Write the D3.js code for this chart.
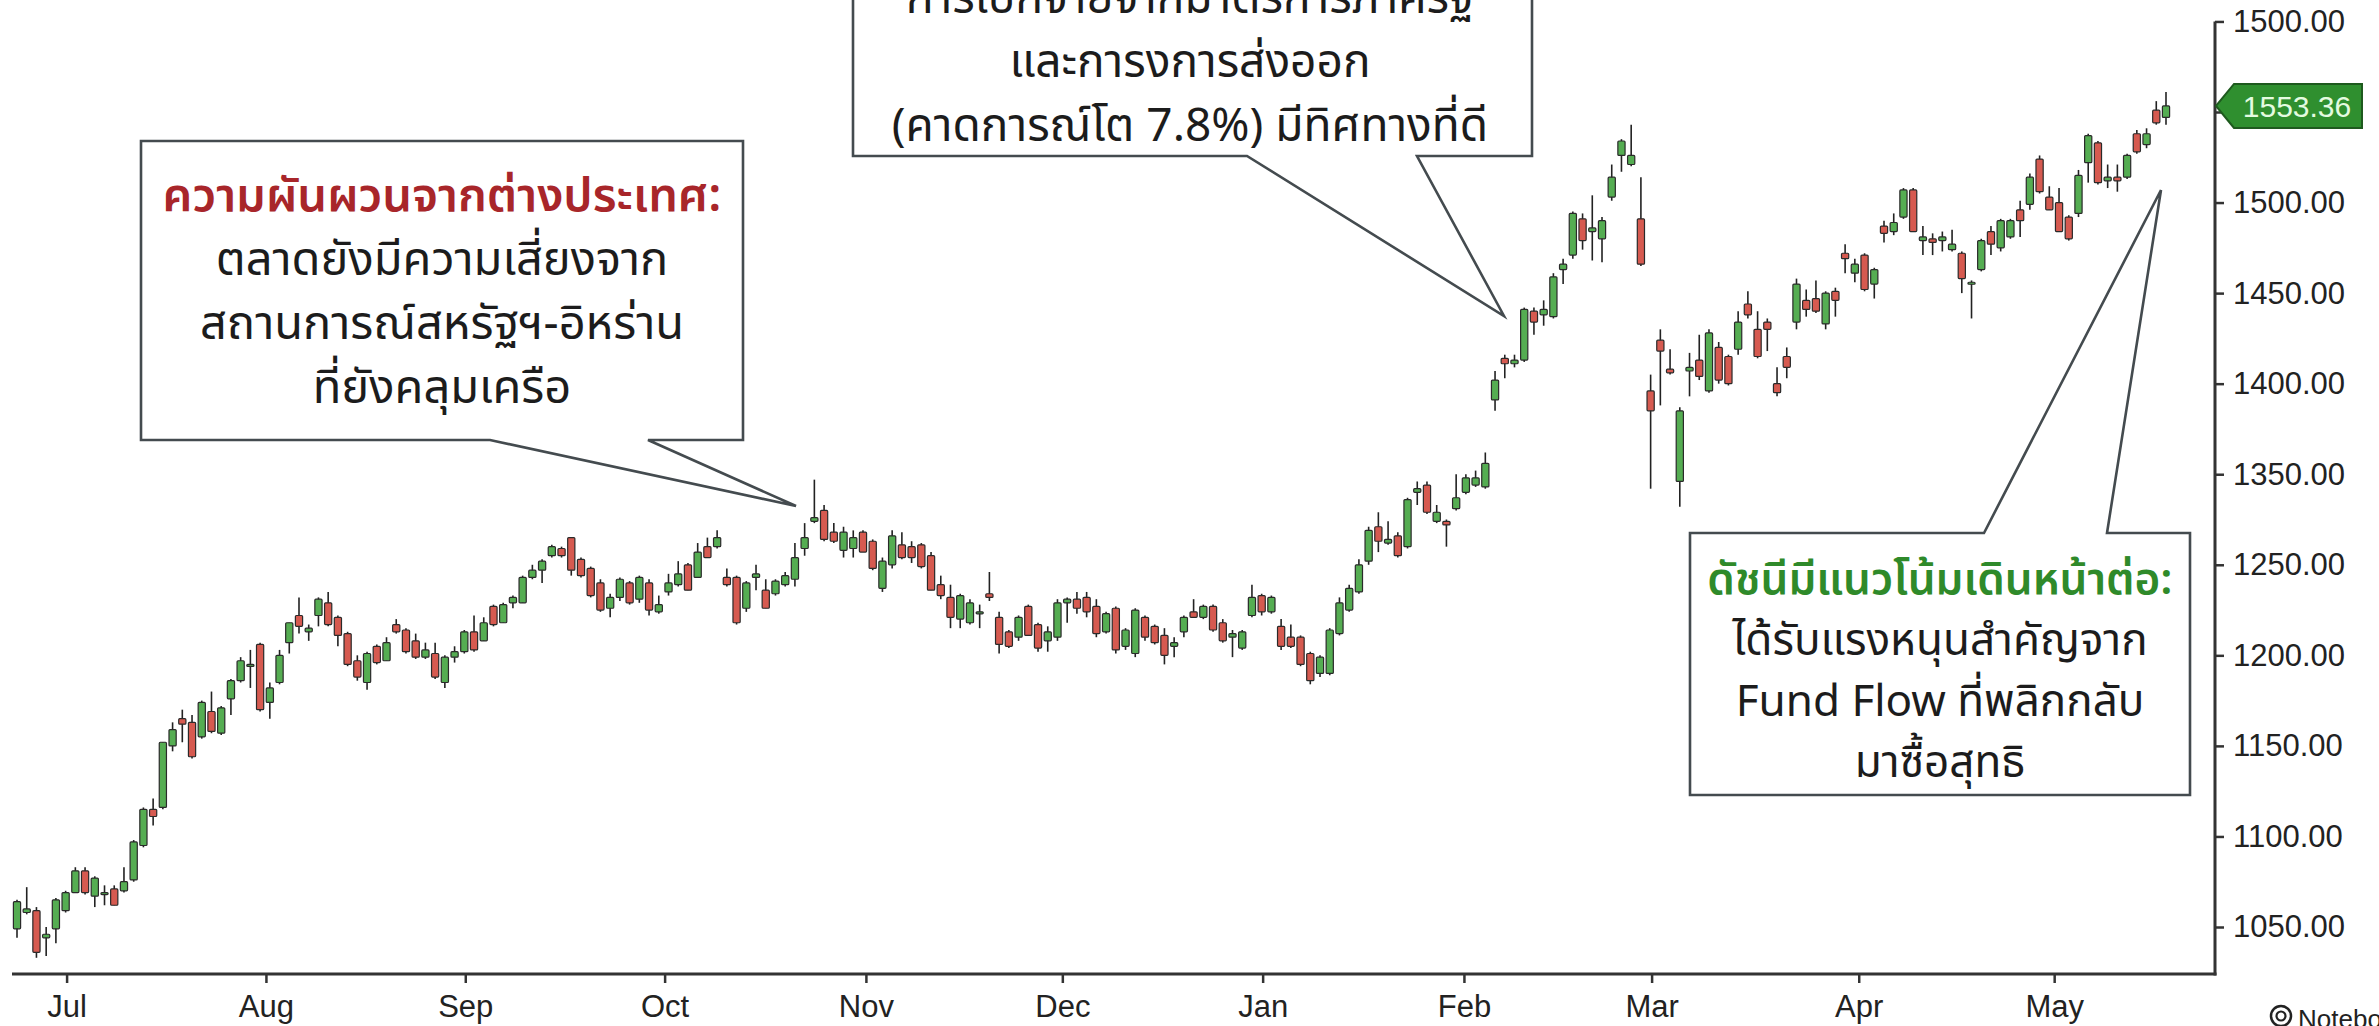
<!DOCTYPE html>
<html><head><meta charset="utf-8">
<script src="https://cdn.jsdelivr.net/npm/d3@7"></script>
<style>
html,body{margin:0;padding:0;background:#fff;overflow:hidden}
svg{display:block}
</style></head><body>
<svg id="chart" width="2379" height="1026"></svg>
<script>
// ---- DATA: daily candles [open, high, low, close] ----
const ohlc = [
[1099,1115,1094,1114],[1108,1122,1107,1110],[1109,1111,1083,1086],[1094,1100,1084,1096],[1099,1116,1091,1115],
[1109,1120,1108,1119],[1119,1133,1119,1131],[1131,1133,1118,1119],[1117,1128,1111,1127],[1118,1123,1112,1119],
[1121,1123,1112,1112],[1120,1133,1119,1125],[1126,1148,1125,1147],[1145,1166,1144,1165],[1165,1171,1156,1161],
[1166,1202,1165,1202],[1200,1213,1197,1209],[1215,1220,1202,1212],[1213,1217,1193,1194],[1205,1225,1204,1224],
[1219,1230,1207,1208],[1207,1222,1206,1221],[1226,1237,1217,1236],[1236,1249,1235,1247],[1244,1253,1232,1245],
[1256,1257,1219,1220],[1224,1235,1215,1232],[1235,1253,1234,1250],[1257,1268,1251,1268],[1272,1282,1262,1266],
[1263,1267,1258,1265],[1272,1282,1266,1281],[1279,1285,1266,1267],[1271,1272,1255,1261],[1262,1263,1244,1245],
[1247,1250,1236,1238],[1235,1252,1231,1251],[1255,1256,1245,1246],[1247,1260,1247,1257],[1267,1270,1262,1263],
[1264,1265,1251,1252],[1258,1262,1248,1249],[1249,1257,1248,1253],[1251,1257,1237,1238],[1235,1250,1232,1249],
[1249,1255,1246,1252],[1252,1264,1251,1263],[1263,1272,1252,1253],[1258,1271,1258,1268],[1277,1278,1266,1267],
[1268,1279,1268,1278],[1279,1283,1276,1282],[1279,1294,1279,1293],[1293,1300,1292,1297],[1297,1303,1290,1302],
[1305,1311,1304,1310],[1309,1310,1304,1305],[1315,1315,1294,1297],[1303,1304,1293,1294],[1298,1299,1282,1283],
[1290,1292,1274,1275],[1276,1284,1271,1282],[1282,1293,1280,1292],[1290,1291,1278,1279],[1281,1294,1279,1293],
[1290,1292,1272,1275],[1274,1283,1273,1278],[1285,1295,1283,1290],[1289,1302,1288,1295],[1300,1301,1286,1286],
[1293,1312,1293,1307],[1310,1315,1304,1304],[1310,1319,1309,1315],[1293,1298,1288,1289],[1293,1294,1267,1268],
[1276,1291,1274,1290],[1293,1300,1286,1295],[1286,1292,1276,1276],[1284,1292,1283,1291],[1289,1296,1288,1294],
[1292,1312,1288,1304],[1309,1323,1305,1315],[1324,1347,1323,1326],[1330,1333,1313,1314],[1318,1323,1312,1313],
[1308,1321,1304,1318],[1309,1319,1304,1315],[1318,1319,1307,1307],[1313,1314,1297,1298],[1287,1304,1285,1302],
[1300,1319,1298,1316],[1311,1318,1303,1304],[1310,1313,1301,1304],[1311,1312,1298,1299],[1305,1307,1286,1286],
[1289,1294,1281,1283],[1282,1289,1265,1271],[1270,1284,1265,1283],[1268,1281,1267,1279],[1273,1278,1265,1274],
[1284,1296,1280,1282],[1271,1274,1251,1256],[1263,1264,1254,1255],[1260,1272,1258,1271],[1277,1278,1261,1261],
[1267,1268,1252,1254],[1258,1266,1252,1263],[1260,1281,1258,1279],[1279,1282,1268,1281],[1281,1285,1273,1276],
[1282,1285,1271,1274],[1277,1281,1260,1262],[1263,1274,1262,1273],[1276,1277,1251,1253],[1255,1265,1253,1264],
[1251,1276,1249,1275],[1271,1272,1258,1260],[1266,1267,1256,1257],[1261,1265,1245,1250],[1255,1260,1249,1257],
[1263,1272,1260,1271],[1274,1281,1271,1271],[1271,1278,1270,1277],[1277,1278,1263,1264],[1268,1270,1257,1258],
[1260,1264,1249,1262],[1254,1264,1253,1263],[1272,1289,1271,1282],[1283,1284,1272,1274],[1274,1283,1273,1282],
[1266,1270,1253,1255],[1260,1267,1254,1255],[1260,1261,1244,1245],[1251,1252,1234,1236],[1240,1250,1238,1249],
[1240,1265,1239,1264],[1262,1282,1261,1279],[1275,1289,1274,1287],[1285,1303,1284,1300],[1302,1321,1300,1319],
[1321,1329,1307,1313],[1312,1324,1311,1314],[1316,1318,1304,1305],[1310,1337,1309,1336],[1340,1346,1333,1342],
[1344,1346,1328,1329],[1324,1333,1323,1329],[1324,1325,1310,1322],[1331,1350,1330,1337],[1340,1350,1339,1348],
[1344,1352,1343,1348],[1343,1362,1342,1356],[1391,1407,1385,1402],[1414,1416,1403,1411],[1411,1416,1409,1413],
[1413,1442,1412,1441],[1440,1442,1427,1434],[1438,1446,1432,1441],[1437,1461,1436,1459],[1463,1469,1455,1466],
[1471,1495,1469,1494],[1491,1494,1474,1479],[1484,1504,1468,1486],[1480,1492,1467,1490],[1503,1521,1501,1514],
[1526,1535,1517,1534],[1521,1543,1520,1526],[1491,1514,1465,1466],[1396,1405,1342,1385],[1424,1430,1388,1418],
[1408,1419,1405,1406],[1346,1387,1332,1385],[1407,1417,1393,1409],[1413,1427,1402,1404],[1396,1430,1395,1428],
[1420,1423,1400,1402],[1415,1416,1399,1400],[1419,1440,1416,1434],[1444,1451,1436,1438],[1430,1440,1414,1415],
[1434,1436,1418,1430],[1400,1409,1393,1395],[1415,1420,1403,1409],[1434,1458,1430,1455],[1446,1452,1437,1441],
[1447,1457,1439,1440],[1433,1451,1430,1450],[1451,1453,1437,1446],[1472,1477,1461,1469],[1461,1469,1456,1466],
[1471,1472,1451,1452],[1455,1464,1447,1463],[1487,1490,1478,1483],[1484,1494,1482,1489],[1492,1508,1491,1507],
[1507,1508,1484,1484],[1479,1487,1471,1481],[1480,1483,1471,1478],[1479,1484,1473,1481],[1474,1485,1473,1477],
[1472,1473,1450,1458],[1455,1457,1436,1456],[1463,1480,1462,1479],[1484,1487,1471,1477],[1475,1491,1473,1490],
[1481,1491,1480,1490],[1496,1501,1481,1490],[1499,1516,1496,1514],[1524,1526,1505,1506],[1503,1509,1496,1496],
[1500,1508,1484,1484],[1492,1493,1479,1480],[1494,1518,1492,1515],[1522,1538,1511,1537],[1533,1534,1510,1511],
[1512,1521,1508,1514],[1514,1521,1506,1512],[1514,1527,1513,1526],[1538,1540,1527,1528],[1532,1541,1530,1538],
[1551,1556,1543,1544],[1547,1561,1543,1553.36]
];
const lastPrice = 1553.36;

// x-axis: month labels and the candle position (index) where each month starts
const monthLabels = ["Jul","Aug","Sep","Oct","Nov","Dec","Jan","Feb","Mar","Apr","May"];
const monthTickIndex = [5.1,25.6,46.1,66.6,87.3,107.5,128.1,148.8,168.1,189.4,209.5];

// y-axis: tick values and the labels printed beside them
const yTickValues = [1100,1150,1200,1250,1300,1350,1400,1450,1500,1550,1600];
const yTickLabels = ["1050.00","1100.00","1150.00","1200.00","1250.00","1350.00","1400.00","1450.00","1500.00","","1500.00"];

// annotation texts
const noteLeft = ["ความผันผวนจากต่างประเทศ:","ตลาดยังมีความเสี่ยงจาก","สถานการณ์สหรัฐฯ-อิหร่าน","ที่ยังคลุมเครือ"];
const noteMid = ["การเบิกจ่ายจากมาตรการภาครัฐ","และการงการส่งออก","(คาดการณ์โต 7.8%) มีทิศทางที่ดี"];
const noteRight = ["ดัชนีมีแนวโน้มเดินหน้าต่อ:","ได้รับแรงหนุนสำคัญจาก","Fund Flow ที่พลิกกลับ","มาซื้อสุทธิ"];

// ---- DRAW ----
const svg = d3.select("#chart");
const W = 2379, H = 1026;
svg.append("rect").attr("width",W).attr("height",H).attr("fill","#ffffff");

const x = d3.scaleLinear().domain([0, ohlc.length-1]).range([17, 2166]);
const y = d3.scaleLinear().domain([1100, 1550]).range([927, 112]);

const axisX = 2215, axisY = 974;
const UP = "#55ad52", DOWN = "#d65a50";
const thaiFont = "'Noto Sans Thai','Noto Sans Thai UI','Noto Sans','Loma','Tlwg Typo',sans-serif";

// candles
const g = svg.append("g");
const c = g.selectAll("g.c").data(ohlc).join("g").attr("class","c");
c.append("line")
  .attr("x1",(d,i)=>x(i)).attr("x2",(d,i)=>x(i))
  .attr("y1",d=>y(d[1])).attr("y2",d=>y(d[2]))
  .attr("stroke","#222").attr("stroke-width",1.6);
c.append("rect")
  .attr("x",(d,i)=>x(i)-3.6).attr("width",7.2)
  .attr("y",d=>y(Math.max(d[0],d[3])))
  .attr("height",d=>Math.max(2,Math.abs(y(d[0])-y(d[3]))))
  .attr("rx",1)
  .attr("fill",d=>d[3]>=d[0]?UP:DOWN)
  .attr("stroke","#2a2a2a").attr("stroke-width",1.2);

// axes
const yAxis = d3.axisRight(y).tickValues(yTickValues)
  .tickFormat((d,i)=>yTickLabels[i]).tickSize(9).tickPadding(9).tickSizeOuter(0);
const gy = svg.append("g").attr("transform",`translate(${axisX},0)`).call(yAxis);
gy.select(".domain").remove();
gy.selectAll("line").attr("stroke","#333").attr("stroke-width",2.5);
gy.selectAll("text").attr("font-family","'Liberation Sans',Arial,sans-serif")
  .attr("font-size",31).attr("fill","#222");

const xAxis = d3.axisBottom(x).tickValues(monthTickIndex)
  .tickFormat((d,i)=>monthLabels[i]).tickSize(9).tickPadding(12).tickSizeOuter(0);
const gx = svg.append("g").attr("transform",`translate(0,${axisY})`).call(xAxis);
gx.select(".domain").remove();
gx.selectAll("line").attr("stroke","#333").attr("stroke-width",2.5);
gx.selectAll("text").attr("font-family","'Liberation Sans',Arial,sans-serif")
  .attr("font-size",31).attr("fill","#222");

svg.append("line").attr("x1",12).attr("x2",axisX+1.5).attr("y1",axisY).attr("y2",axisY)
  .attr("stroke","#333").attr("stroke-width",3);
svg.append("line").attr("x1",axisX).attr("x2",axisX).attr("y1",y(1600)).attr("y2",axisY+1.5)
  .attr("stroke","#333").attr("stroke-width",3);

// last-price marker
const py = y(lastPrice);
svg.append("path")
  .attr("d",`M${axisX+1},${py} L${axisX+19},${py-22} H2362 V${py+22} H${axisX+19} Z`)
  .attr("fill","#2f8f2f").attr("stroke","#1e5a1e").attr("stroke-width",2);
svg.append("text").attr("x",2297).attr("y",py+11).attr("text-anchor","middle")
  .attr("font-family","'Liberation Sans',Arial,sans-serif").attr("font-size",30)
  .attr("fill","#e4fbe0").text(lastPrice.toFixed(2));

// callouts
function bubbleBottom(x0,y0,x1,y1,b0,b1,tx,ty){
  return `M${x0},${y0} H${x1} V${y1} H${b1} L${tx},${ty} L${b0},${y1} H${x0} Z`;
}
function bubbleTop(x0,y0,x1,y1,b0,b1,tx,ty){
  return `M${x0},${y0} H${b0} L${tx},${ty} L${b1},${y0} H${x1} V${y1} H${x0} Z`;
}
function drawBubble(d){
  svg.append("path").attr("d",d).attr("fill","#ffffff").attr("fill-opacity",0.97)
    .attr("stroke","#444b4f").attr("stroke-width",2.6).attr("stroke-linejoin","miter");
}
function drawLines(lines,cx,y0,dy,size,firstColor){
  lines.forEach((t,i)=>{
    svg.append("text").attr("x",cx).attr("y",y0+i*dy).attr("text-anchor","middle")
      .attr("dominant-baseline","middle")
      .attr("font-family",thaiFont).attr("font-size",size)
      .attr("font-weight",(i===0&&firstColor)?600:400)
      .attr("fill",(i===0&&firstColor)?firstColor:"#1c1c1c").text(t);
  });
}
drawBubble(bubbleBottom(141,141,743,440,490,648,796,506));
drawLines(noteLeft,442,198,64,47,"#a8262a");

drawBubble(bubbleBottom(853,-40,1532,156,1247,1417,1504,316));
drawLines(noteMid,1190,0,64,46,null);

drawBubble(bubbleTop(1690,533,2190,795,1984,2107,2161,190));
drawLines(noteRight,1940,582,61,44,"#2f8a2a");

// watermark
const wm = svg.append("g").attr("transform","translate(2281,1016)");
wm.append("circle").attr("r",10).attr("fill","none").attr("stroke","#222").attr("stroke-width",2.5);
wm.append("circle").attr("r",4.5).attr("fill","none").attr("stroke","#222").attr("stroke-width",2.2);
svg.append("text").attr("x",2298).attr("y",1028).attr("font-family","'Liberation Sans',Arial,sans-serif")
  .attr("font-size",26).attr("fill","#222").text("Notebook");
</script>
</body></html>
